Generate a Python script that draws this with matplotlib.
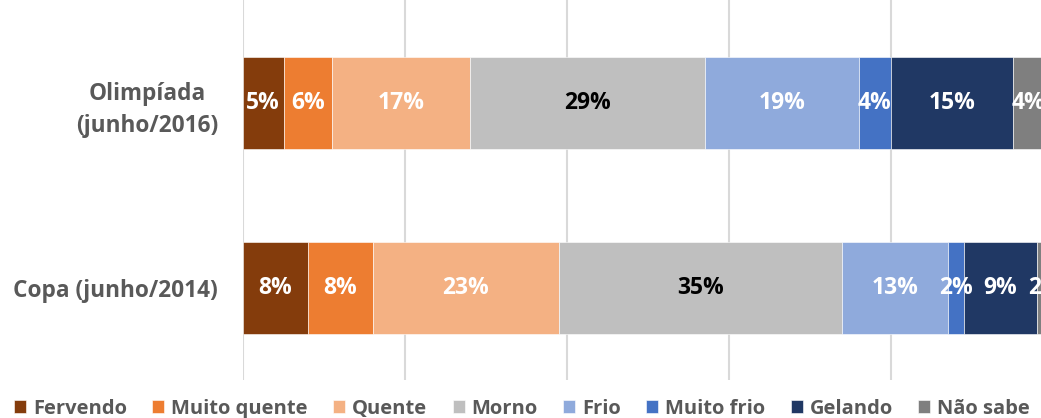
import matplotlib
matplotlib.use("Agg")
import matplotlib.pyplot as plt
import numpy as np

categories = ["Copa (junho/2014)", "Olimpíada\n(junho/2016)"]
series_names = ["Fervendo", "Muito quente", "Quente", "Morno", "Frio", "Muito frio", "Gelando", "Não sabe"]
copa = [8, 8, 23, 35, 13, 2, 9, 2]
olimpiada = [5, 6, 17, 29, 19, 4, 15, 4]
colors = ["#843C0C", "#ED7D31", "#F4B183", "#BFBFBF", "#8FAADC", "#4472C4", "#203864", "#7F7F7F"]
label_colors = ["white", "white", "white", "black", "white", "white", "white", "white"]

plt.rcParams['font.family'] = ['Open Sans', 'DejaVu Sans']

fig = plt.figure(figsize=(10.41, 4.18), dpi=100)
ax = fig.add_axes([243/1041, 1 - 380/418, 810/1041, 380/418])

data = np.array([copa, olimpiada])
ypos = np.arange(len(categories))
left = np.zeros(len(categories))
for i, name in enumerate(series_names):
    vals = data[:, i]
    ax.barh(ypos, vals, left=left, height=0.5, color=colors[i], label=name,
            edgecolor="white", linewidth=0.4, zorder=3)
    for j, v in enumerate(vals):
        ax.text(left[j] + v / 2, ypos[j], f"{v}%", ha="center", va="center",
                color=label_colors[i], fontsize=16.5, fontweight="bold", zorder=4)
    left += vals

ax.set_xlim(0, 100)
ax.set_ylim(-0.5, 1.56)
ax.set_xticks([0, 20, 40, 60, 80, 100])
ax.xaxis.grid(True, color="#D9D9D9", linewidth=1.5, zorder=0)
ax.tick_params(axis="x", length=0, labelbottom=False)
ax.tick_params(axis="y", length=0, pad=18)
ax.set_yticks(ypos)
ax.set_yticklabels(categories, fontsize=16.3, fontweight="bold", color="#595959",
                   ha="right", multialignment="center", linespacing=1.45)
for s in ax.spines.values():
    s.set_visible(False)

leg = fig.legend(loc="lower left", bbox_to_anchor=(-0.004, -0.045), ncol=8, frameon=False,
                 handlelength=0.6, handleheight=0.6, handletextpad=0.35, columnspacing=1.25,
                 prop={"size": 14.5, "weight": "bold"})
for t in leg.get_texts():
    t.set_color("#595959")

fig.savefig("out.png", dpi=100)
